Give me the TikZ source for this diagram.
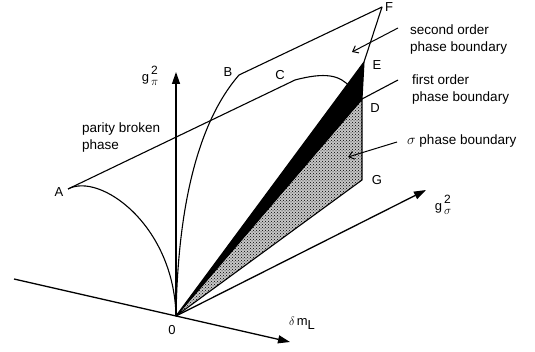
\documentclass[tikz,border=0pt]{standalone}
\usepackage{amsmath}
\usepackage{fontspec}
\setmainfont{Liberation Sans}
\usepackage{tikz}
\usetikzlibrary{arrows.meta,patterns}

\newcommand{\stackidx}[2]{\rlap{\raisebox{7pt}{\fontsize{12}{12}\selectfont #1}}\raisebox{-4pt}{#2}}

\begin{document}
\begin{tikzpicture}[
  x=1pt,y=-1pt,
  line/.style={line width=1.1pt,line join=round},
  axis/.style={line width=1.3pt,-{Triangle[length=12pt,width=8pt]}},
  pointer/.style={line width=1pt,-{Straight Barb[length=5pt,width=8pt]}},
  lbl/.style={font=\fontsize{13}{17}\selectfont,inner sep=0pt},
  txt/.style={font=\fontsize{13.5}{17}\selectfont,align=left,inner sep=0pt,anchor=west},
]
\useasboundingbox (0,0) rectangle (535,352);

\coordinate (O) at (176,316);
\coordinate (A) at (68,189);
\coordinate (B) at (239,75);
\coordinate (C) at (295,80);
\coordinate (Cb) at (350,87);
\coordinate (D) at (362,99);
\coordinate (E) at (364,62);
\coordinate (F) at (382,7);
\coordinate (G) at (362,180);
\coordinate (mL) at (290,342);
\coordinate (mL0) at (14,279);
\coordinate (gpi) at (176,72);
\coordinate (gsig) at (426,190);

\fill[black!22] (O) -- (D) -- (G) -- cycle;
\filldraw[line,pattern=crosshatch dots,pattern color=black] (O) -- (D) -- (G) -- cycle;
\filldraw[line,fill=black] (O) -- (E) -- (D) -- cycle;

\draw[axis] (mL0) -- (mL);
\draw[axis] (O) -- (gpi);
\draw[axis] (O) -- (gsig);

\draw[line] (A) -- (C) .. controls (325,72) and (340,75) .. (Cb);
\draw[line] (A) .. controls (100,172) and (174,225) .. (O);
\draw[line] (O) .. controls (178,200) and (200,120) .. (B) -- (F) -- (E);

\node[lbl] (lA) at (59,192) {A};
\node[lbl] (lB) at (228,72) {B};
\node[lbl] (lC) at (280,75) {C};
\node[lbl] (lD) at (375,108) {D};
\node[lbl] (lE) at (377,65) {E};
\node[lbl] (lF) at (389,7) {F};
\node[lbl] (lG) at (377,180) {G};
\node[lbl] (lO) at (172,330) {0};

\node[lbl] (tpi) at (150,76) {g\hspace{2pt}\stackidx{2}{$\pi$}};
\node[lbl] (tsig) at (443,205) {g\hspace{2pt}\stackidx{2}{$\sigma$}};
\node[lbl] (tm) at (302,323) {$\delta$\,m\raisebox{-4pt}{L}};

\node[txt] (parity) at (82,138) {parity broken\\phase};
\node[txt] (second) at (410,40) {second order\\phase boundary};
\node[txt] (first) at (412,90) {first order\\phase boundary};
\node[txt] (sigma) at (407,141) {$\sigma$ phase boundary};

\coordinate (p2) at (398,28);
\coordinate (p2t) at (352,52);
\coordinate (p1) at (398,80);
\coordinate (ps) at (397,142);
\coordinate (pst) at (348,157);

\draw[pointer] (p2) -- (p2t);
\draw[line] (D) -- (p1);
\draw[pointer] (ps) -- (pst);
\end{tikzpicture}
\end{document}
